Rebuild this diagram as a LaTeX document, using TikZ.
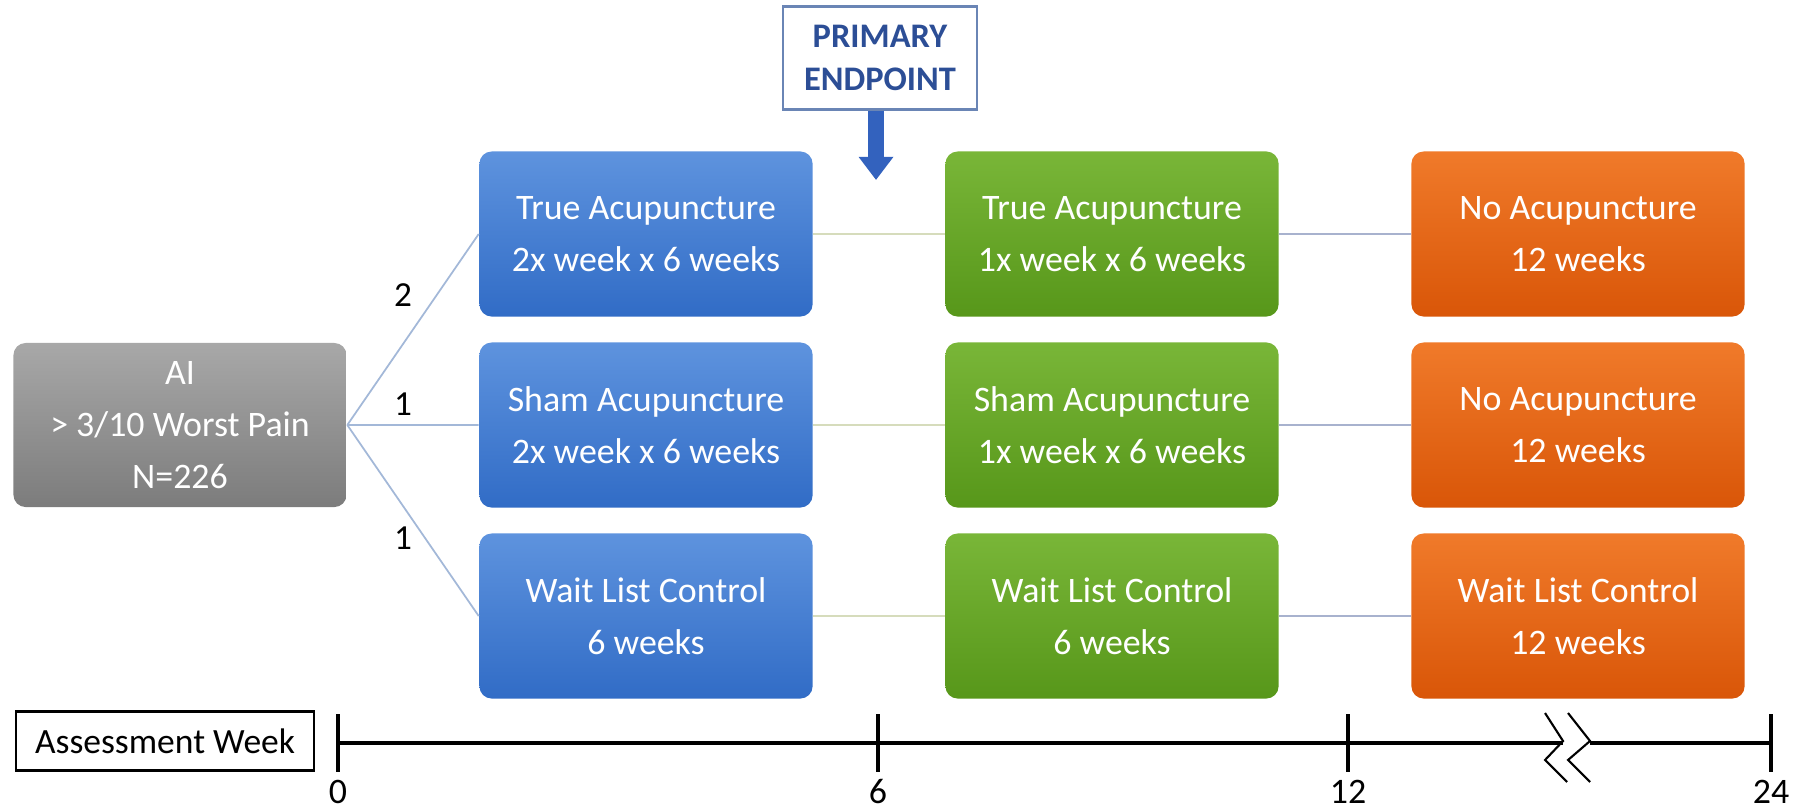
\documentclass[tikz,border=0pt]{standalone}
\usepackage{fontspec}
\setmainfont{Carlito}
\usepackage{xcolor}
\usetikzlibrary{arrows.meta}
\usetikzlibrary{positioning}
\definecolor{bluetop}{HTML}{5E93DE}
\definecolor{bluebot}{HTML}{316CC6}
\definecolor{greentop}{HTML}{79B638}
\definecolor{greenbot}{HTML}{57971A}
\definecolor{orangetop}{HTML}{F07A2A}
\definecolor{orangebot}{HTML}{D95608}
\definecolor{graytop}{HTML}{A8A8A8}
\definecolor{graybot}{HTML}{7C7C7C}
\definecolor{endblue}{HTML}{2C4E96}
\definecolor{arrowblue}{HTML}{3362BE}
\definecolor{frameblue}{HTML}{6A85B5}
\definecolor{linkblue}{HTML}{A3B8D8}
\definecolor{linkolive}{HTML}{D6DCBC}
\definecolor{linkgrey}{HTML}{A8B2CE}
\tikzset{> = latex,
	armbox/.style={rounded corners=3.5pt, minimum width=3.33cm, minimum height=1.65cm, inner sep=0pt,
		text=white, align=center, font=\fontsize{10.2}{14.8}\selectfont},
	bluebox/.style={armbox, top color=bluetop, bottom color=bluebot},
	greenbox/.style={armbox, top color=greentop, bottom color=greenbot},
	orangebox/.style={armbox, top color=orangetop, bottom color=orangebot},
	graybox/.style={armbox, top color=graytop, bottom color=graybot, minimum height=1.64cm},
	link/.style={line width=0.5pt},
	tick/.style={line width=0.9pt, black},
	brk/.style={line width=0.6pt, black},
	lab/.style={font=\fontsize{10}{12}\selectfont, inner sep=0pt}}

\begin{document}
\begin{tikzpicture}[x=0.01cm, y=-0.01cm]
	\useasboundingbox (0,0) rectangle (1807,809);
	% start
	\node[graybox] (ai) at (180,425) {AI\\> 3/10 Worst Pain\\N=226};
	% first six weeks
	\node[bluebox] (truea) at (646,234) {True Acupuncture\\2x week x 6 weeks};
	\node[bluebox] (shama) at (646,425) {Sham Acupuncture\\2x week x 6 weeks};
	\node[bluebox] (waita) at (646,616) {Wait List Control\\6 weeks};
	% weeks 6 to 12
	\node[greenbox] (trueb) at (1112,234) {True Acupuncture\\1x week x 6 weeks};
	\node[greenbox] (shamb) at (1112,425) {Sham Acupuncture\\1x week x 6 weeks};
	\node[greenbox] (waitb) at (1112,616) {Wait List Control\\6 weeks};
	% weeks 12 to 24
	\node[orangebox] (truec) at (1578,234) {No Acupuncture\\12 weeks};
	\node[orangebox] (shamc) at (1578,425) {No Acupuncture\\12 weeks};
	\node[orangebox] (waitc) at (1578,616) {Wait List Control\\12 weeks};

	\draw[link, linkblue] (ai.east)--(truea.west) (ai.east)--(shama.west) (ai.east)--(waita.west);
	\node[lab] (r1) at (403,295) {2};
	\node[lab] (r2) at (403,404) {1};
	\node[lab] (r3) at (403,538) {1};
	\foreach \r in {true,sham,wait}{
		\draw[link, linkolive] (\r a.east)--(\r b.west);
		\draw[link, linkgrey] (\r b.east)--(\r c.west);
	}

	% primary endpoint
	\node[draw=frameblue, line width=0.6pt, minimum width=1.94cm, minimum height=1.03cm, align=center,
		text=endblue, font=\fontsize{9.8}{12.3}\selectfont\bfseries] (primary) at (880,58) {PRIMARY\\ENDPOINT};
	\coordinate (petip) at (876,180);
	\draw[arrowblue, line width=4.5pt, -{Triangle[width=9.5pt,length=6.6pt]}] (primary.south -| petip)--(petip);

	% time line
	\node[draw, line width=0.6pt, minimum width=2.98cm, minimum height=0.59cm, inner sep=0pt,
		font=\fontsize{10.1}{12}\selectfont] (week) at (165,741) {Assessment Week};
	\coordinate (w0) at (338,743);
	\coordinate (w24) at (1771,743);
	\draw[tick] (w0)--(1563,743) (1590,743)--(w24);
	\foreach \x/\w in {338/0, 878/6, 1348/12, 1771/24}{
		\draw[tick] (\x,714)--(\x,772);
		\node[font=\fontsize{10.2}{12}\selectfont, inner sep=0pt] (lab\w) at (\x,792) {\w};
	}
	\draw[brk] (1545,713)--(1563,741)--(1545,760)--(1567,782);
	\draw[brk] (1568,713)--(1590,741)--(1568,760)--(1590,782);
\end{tikzpicture}
\end{document}
